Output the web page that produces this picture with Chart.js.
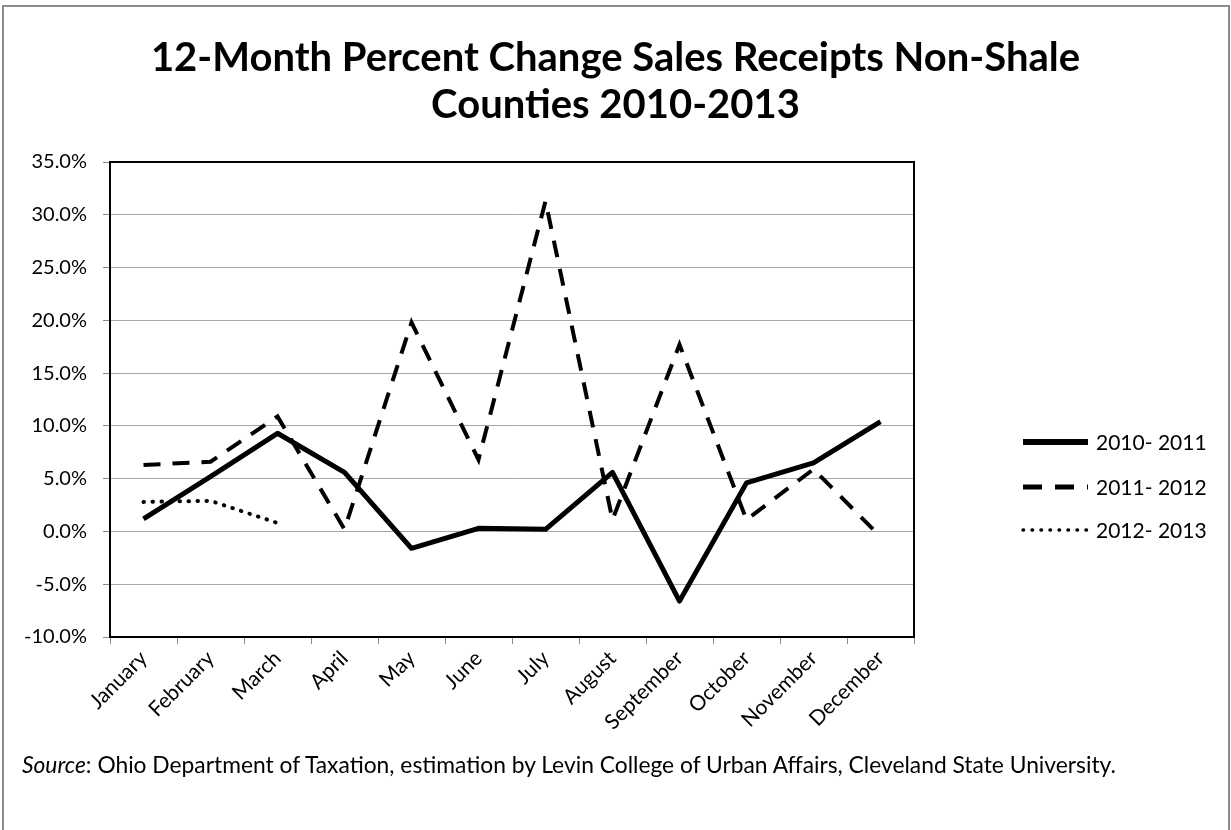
<!DOCTYPE html>
<html>
<head>
<meta charset="utf-8">
<script src="https://cdn.jsdelivr.net/npm/chart.js@4.4.1/dist/chart.umd.min.js"></script>
<style>
    html, body { margin: 0; padding: 0; background: #fff; }
    #wrap { position: relative; width: 1231px; height: 830px; overflow: hidden; }
    #frame { position: absolute; left: 2px; top: 5px; width: 1228px; height: 840px; border: 2px solid #8c8c8c; box-sizing: border-box; }
    #salesChart { position: absolute; left: 0; top: 0; }
    #source { position: absolute; left: 22px; top: 750px; font-family: Lato, sans-serif; font-size: 22.8px; color: #000; white-space: nowrap; }
</style>
</head>
<body>
<div id="wrap">
    <div id="frame"></div>
    <canvas id="salesChart" width="1231" height="830"></canvas>
    <div id="source"><i>Source</i>: Ohio Department of Taxation, estimation by Levin College of Urban Affairs, Cleveland State University.</div>
</div>
<script>
// months on the x axis
const months = ['January', 'February', 'March', 'April', 'May', 'June', 'July',
                'August', 'September', 'October', 'November', 'December'];

// 12-month percent change, one array per fiscal year
const fy2010_2011 = [1.2, 5.2, 9.3, 5.6, -1.6, 0.3, 0.2, 5.6, -6.6, 4.6, 6.5, 10.4];
const fy2011_2012 = [6.3, 6.6, 10.9, 0.2, 19.8, 6.8, 31.3, 1.1, 17.7, 1.1, 5.9, -0.5];
const fy2012_2013 = [2.8, 2.9, 0.8];

const seriesNames = ['2010- 2011', '2011- 2012', '2012- 2013'];

const yTicks = [-10, -5, 0, 5, 10, 15, 20, 25, 30, 35];

const FONT = 'Lato, "Open Sans", sans-serif';

// box around the plot area (Excel style)
const plotBorder = {
    id: 'plotBorder',
    afterDatasetsDraw(chart) {
        const { ctx, chartArea: a } = chart;
        ctx.save();
        ctx.strokeStyle = '#000';
        ctx.lineWidth = 2;
        ctx.strokeRect(a.left, a.top, a.right - a.left, a.bottom - a.top);
        ctx.restore();
    }
};

// legend on the right side, drawn from the dataset styles
const sideLegend = {
    id: 'sideLegend',
    afterDraw(chart) {
        const { ctx, chartArea: a } = chart;
        const x0 = a.right + 109, x1 = a.right + 174;
        const rows = [442, 487, 530];
        ctx.save();
        chart.data.datasets.forEach((ds, i) => {
            const y = rows[i];
            ctx.beginPath();
            ctx.strokeStyle = ds.borderColor;
            ctx.lineWidth = ds.legendWidth;
            ctx.lineCap = ds.borderCapStyle || 'butt';
            ctx.setLineDash(ds.legendDash || []);
            ctx.moveTo(x0, y);
            ctx.lineTo(x1, y);
            ctx.stroke();
            ctx.setLineDash([]);
            ctx.fillStyle = '#000';
            ctx.font = '21px ' + FONT;
            ctx.textBaseline = 'middle';
            ctx.fillText(ds.label, x1 + 8, y + 1);
        });
        ctx.restore();
    }
};

const ctx = document.getElementById('salesChart').getContext('2d');

new Chart(ctx, {
    type: 'line',
    data: {
        labels: months,
        datasets: [
            {
                label: seriesNames[0],
                data: fy2010_2011,
                borderColor: '#000',
                borderWidth: 5,
                borderJoinStyle: 'round',
                legendWidth: 6
            },
            {
                label: seriesNames[1],
                data: fy2011_2012,
                borderColor: '#000',
                borderWidth: 4,
                borderDash: [17, 12],
                legendWidth: 5,
                legendDash: [19, 13]
            },
            {
                label: seriesNames[2],
                data: fy2012_2013,
                borderColor: '#000',
                borderWidth: 4,
                borderCapStyle: 'round',
                borderDash: [0.5, 8.5],
                legendWidth: 3.5,
                legendDash: [0.5, 8.5]
            }
        ]
    },
    options: {
        responsive: false,
        animation: false,
        elements: {
            point: { radius: 0, hoverRadius: 0 },
            line: { tension: 0 }
        },
        layout: {
            padding: { left: 0, right: 0, top: 0, bottom: 0 }
        },
        plugins: {
            legend: { display: false },
            tooltip: { enabled: false },
            title: {
                display: true,
                text: ['12-Month Percent Change Sales Receipts Non-Shale', 'Counties 2010-2013'],
                color: '#000',
                font: { family: FONT, size: 40, weight: 'bold', lineHeight: 1.175 },
                padding: { top: 34.5, bottom: 33.5 }
            }
        },
        scales: {
            x: {
                offset: true,
                afterFit(scale) { scale.height = 193; },
                grid: {
                    offset: true,
                    drawOnChartArea: false,
                    tickLength: 7,
                    color: '#888'
                },
                border: { color: '#000', width: 2 },
                ticks: {
                    color: '#000',
                    font: { family: FONT, size: 21 },
                    minRotation: 45,
                    maxRotation: 45,
                    padding: 2
                }
            },
            y: {
                min: -10,
                max: 35,
                afterFit(scale) { scale.width = 110; },
                afterBuildTicks(scale) { scale.ticks = yTicks.map(v => ({ value: v })); },
                grid: {
                    color: '#a6a6a6',
                    lineWidth: 1,
                    tickLength: 7,
                    tickColor: '#888'
                },
                border: { color: '#000', width: 2 },
                ticks: {
                    color: '#000',
                    font: { family: FONT, size: 20 },
                    padding: 16,
                    callback: v => v.toFixed(1) + '%'
                }
            },
            // empty axis on the right that keeps room for the legend
            legendRoom: {
                position: 'right',
                afterFit(scale) { scale.width = 317; },
                grid: { display: false },
                border: { display: false },
                ticks: { display: false }
            }
        }
    },
    plugins: [plotBorder, sideLegend]
});
</script>
</body>
</html>
